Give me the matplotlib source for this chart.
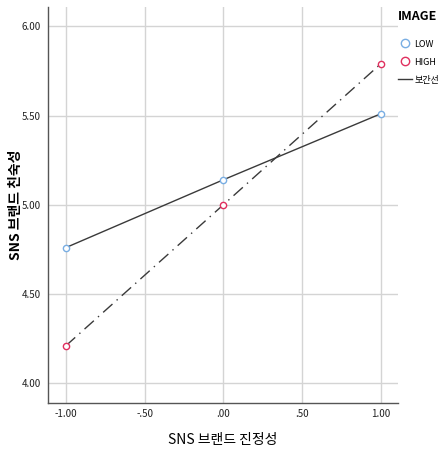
import matplotlib.pyplot as plt
from matplotlib.lines import Line2D

plt.rcParams['font.family'] = ['Liberation Sans Narrow', 'Noto Sans CJK KR', 'DejaVu Sans']

# data
x_vals = [-1.0, 0.0, 1.0]
low_vals = [4.76, 5.14, 5.51]
high_vals = [4.21, 5.00, 5.79]
x_ticks = [-1.0, -0.5, 0.0, 0.5, 1.0]
x_ticklabels = ['-1.00', '-.50', '.00', '.50', '1.00']
y_ticks = [4.0, 4.5, 5.0, 5.5, 6.0]
y_ticklabels = ['4.00', '4.50', '5.00', '5.50', '6.00']

low_color = '#79aee3'
high_color = '#e0305f'
line_color = '#3a3a3a'

fig = plt.figure(figsize=(4.44, 4.51), dpi=100)
ax = fig.add_axes([0.108, 0.106, 0.788, 0.878])

ax.plot(x_vals, low_vals, color=line_color, linewidth=1.0, linestyle='-', zorder=2)
ax.plot(x_vals, high_vals, color=line_color, linewidth=1.0, linestyle=(0, (9, 4, 1, 4)), zorder=2)
ax.plot(x_vals, low_vals, linestyle='none', marker='o', markersize=4.5,
        markerfacecolor='white', markeredgecolor=low_color, markeredgewidth=1.0, zorder=3)
ax.plot(x_vals, high_vals, linestyle='none', marker='o', markersize=4.5,
        markerfacecolor='white', markeredgecolor=high_color, markeredgewidth=1.0, zorder=3)

ax.set_xlim(-1.114, 1.108)
ax.set_ylim(3.888, 6.107)
ax.set_xticks(x_ticks)
ax.set_xticklabels(x_ticklabels)
ax.set_yticks(y_ticks)
ax.set_yticklabels(y_ticklabels)
ax.tick_params(length=0, labelsize=7, colors='#222222')
ax.tick_params(axis='x', pad=4)
ax.tick_params(axis='y', pad=5)
ax.grid(True, color='#d4d4d4', linewidth=1.0)
ax.set_axisbelow(True)
for side in ['top', 'right']:
    ax.spines[side].set_visible(False)
for side in ['left', 'bottom']:
    ax.spines[side].set_color('#555555')
    ax.spines[side].set_linewidth(1.0)

ax.set_xlabel('SNS 브랜드 진정성', fontsize=10, va='center')
ax.xaxis.set_label_coords(0.5, -0.093)
ax.set_ylabel('SNS 브랜드 친숙성', fontsize=10, fontweight='bold', va='center')
ax.yaxis.set_label_coords(-0.091, 0.5)

handles = [
    Line2D([], [], linestyle='none', marker='o', markersize=6, markerfacecolor='white',
           markeredgecolor=low_color, markeredgewidth=1.0),
    Line2D([], [], linestyle='none', marker='o', markersize=6, markerfacecolor='white',
           markeredgecolor=high_color, markeredgewidth=1.0),
    Line2D([], [], color=line_color, linewidth=1.0),
]
leg = fig.legend(handles, ['LOW', 'HIGH', '보간선'], title='IMAGE',
                 loc='upper left', bbox_to_anchor=(0.897, 0.978), frameon=False,
                 fontsize=6.5, handlelength=1.5, handletextpad=0.3, labelspacing=1.0,
                 borderaxespad=0, borderpad=0, alignment='left')
leg.get_title().set_fontweight('bold')
leg.get_title().set_fontsize(9)
leg._legend_box.sep = 12

fig.savefig('out.png', dpi=100)
